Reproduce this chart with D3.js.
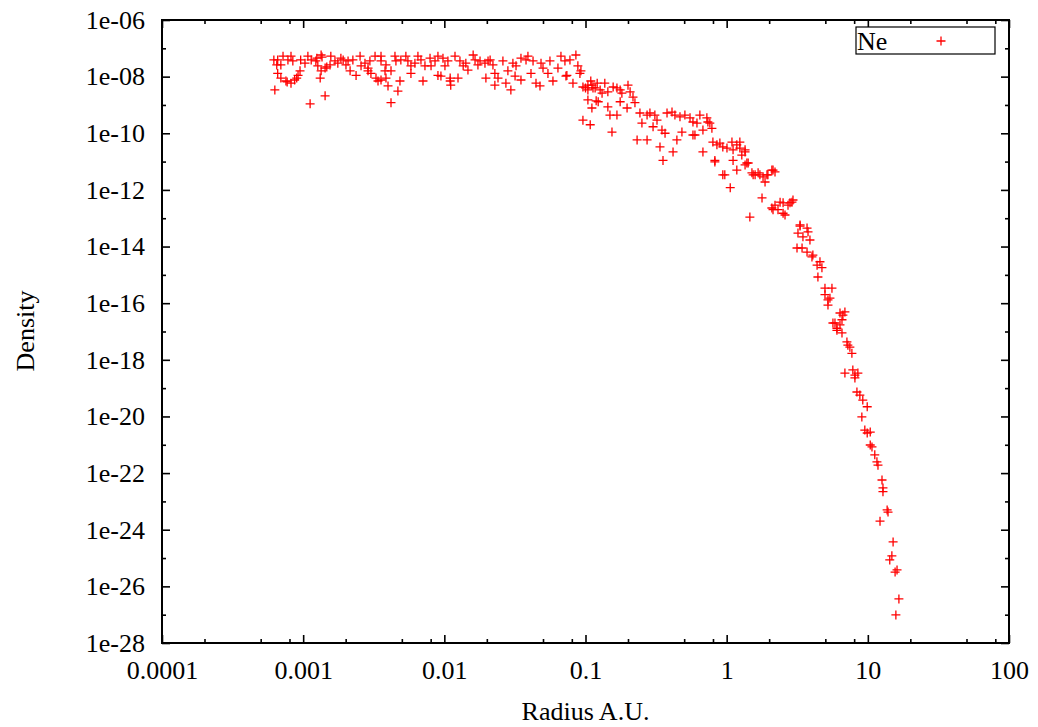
<!DOCTYPE html>
<html>
<head>
<meta charset="utf-8">
<script src="https://cdn.jsdelivr.net/npm/d3@7"></script>
<style>
  html, body { margin: 0; padding: 0; background: #fff; }
  svg text { font-family: 'Liberation Serif', 'Times New Roman', serif; fill: #000; }
</style>
</head>
<body>
<svg id="chart" width="1038" height="727"></svg>
<script>
// ── Data (Ne density vs radius) ─────────────────────
// core, r < 3.5e-3
const radiusCoreA = [6.2e-4, 6.6e-4, 7.2e-4, 6.5e-4, 6.95e-4, 6.6e-4, 6.95e-4, 7.55e-4, 8.2e-4, 8.7e-4,
  9.2e-4, 9.5e-4, 7.8e-4, 8.2e-4, 8.45e-4, 9.6e-4, 1.03e-3, 1.08e-3, 1.14e-3, 1.23e-3,
  1.34e-3, 1.27e-3, 1.34e-3, 1.32e-3, 1.43e-3, 1.55e-3, 1.57e-3, 1.68e-3, 1.76e-3, 1.85e-3,
  1.92e-3, 2.01e-3, 2.08e-3, 2.15e-3, 2.25e-3, 2.37e-3, 2.53e-3, 2.57e-3, 2.74e-3, 2.88e-3,
  2.97e-3, 2.88e-3, 3.02e-3, 3.23e-3, 3.28e-3, 3.39e-3, 6.3e-4, 1.43e-3, 1.12e-3, 7.7e-4,
  9.0e-4, 1.25e-3, 1.36e-3, 1.47e-3];
const densityCoreA = [3.9e-8, 3.9e-8, 5.3e-8, 2.6e-8, 2.6e-8, 1.3e-8, 8.9e-9, 7.0e-9, 5.9e-9, 7.6e-9,
  1.1e-8, 1.6e-8, 3.9e-8, 5.3e-8, 3.6e-8, 3.9e-8, 3.0e-8, 5.3e-8, 3.9e-8, 3.6e-8,
  5.8e-8, 2.4e-8, 1.6e-8, 8.9e-9, 2.0e-8, 2.6e-8, 5.3e-8, 3.6e-8, 3.0e-8, 4.5e-8,
  3.9e-8, 2.6e-8, 3.6e-8, 1.6e-8, 3.9e-8, 1.1e-8, 5.3e-8, 2.4e-8, 3.0e-8, 2.0e-8,
  3.6e-8, 1.6e-8, 1.3e-8, 5.3e-8, 8.9e-9, 7.0e-9, 3.4e-9, 2.1e-9, 1.1e-9, 6.5e-9,
  8.9e-9, 4.5e-8, 4.9e-8, 2.2e-8];

// core, 3.5e-3 .. 2e-2
const radiusCoreB = [3.56e-3, 3.56e-3, 3.86e-3, 3.8e-3, 4.19e-3, 3.56e-3, 3.86e-3, 3.99e-3, 4.85e-3, 4.69e-3,
  4.19e-3, 4.47e-3, 4.54e-3, 4.92e-3, 5.34e-3, 5.52e-3, 5.8e-3, 5.8e-3, 6.19e-3, 6.5e-3,
  6.83e-3, 7.06e-3, 7.29e-3, 7.92e-3, 8.05e-3, 8.59e-3, 9.01e-3, 9.01e-3, 9.46e-3, 9.78e-3,
  1.01e-2, 1.06e-2, 1.10e-2, 1.11e-2, 1.10e-2, 1.19e-2, 1.25e-2, 1.29e-2, 1.36e-2, 1.42e-2,
  1.47e-2, 1.60e-2, 1.65e-2, 1.73e-2, 1.79e-2, 1.94e-2, 1.97e-2, 2.04e-2];
const densityCoreB = [5.3e-8, 3.6e-8, 2.6e-8, 1.6e-8, 1.6e-8, 7.6e-9, 8.9e-9, 4.7e-9, 7.0e-9, 3.1e-9,
  1.2e-9, 5.3e-8, 3.6e-8, 3.9e-8, 5.3e-8, 3.6e-8, 2.4e-8, 1.3e-8, 3.0e-8, 5.3e-8,
  3.9e-8, 7.0e-9, 2.4e-8, 4.5e-8, 2.4e-8, 3.6e-8, 5.3e-8, 1.1e-8, 1.05e-8, 4.5e-8,
  2.4e-8, 3.6e-8, 8.9e-9, 5.0e-9, 7.0e-9, 5.3e-8, 8.9e-9, 3.6e-8, 2.4e-8, 3.0e-8,
  1.7e-8, 5.8e-8, 3.9e-8, 2.6e-8, 3.6e-8, 3.0e-8, 8.9e-9, 3.6e-8];

// core, 2e-2 .. 0.093
const radiusCoreC = [2.11e-2, 2.21e-2, 2.28e-2, 2.28e-2, 2.40e-2, 2.60e-2, 2.73e-2, 2.82e-2, 2.96e-2, 3.06e-2,
  3.17e-2, 3.22e-2, 3.49e-2, 3.49e-2, 3.79e-2, 3.91e-2, 4.11e-2, 4.25e-2, 4.46e-2, 4.76e-2,
  4.84e-2, 5.0e-2, 5.42e-2, 5.6e-2, 5.88e-2, 6.38e-2, 6.7e-2, 7.15e-2, 7.27e-2, 7.76e-2,
  8.15e-2, 8.55e-2, 8.83e-2, 9.28e-2, 7.38e-2, 9.13e-2];
const densityCoreC = [3.9e-8, 2.6e-8, 1.3e-8, 5.0e-9, 8.9e-9, 3.6e-8, 5.9e-9, 1.6e-8, 3.4e-9, 3.0e-8,
  1.05e-8, 2.4e-8, 7.6e-9, 4.5e-8, 3.9e-8, 5.3e-8, 1.3e-8, 3.6e-8, 5.9e-9, 4.7e-9,
  3.0e-8, 2.0e-8, 1.3e-8, 3.6e-8, 7.0e-9, 2.0e-8, 5.3e-8, 3.6e-8, 1.05e-8, 3.9e-8,
  5.9e-9, 5.8e-8, 2.4e-8, 1.6e-8, 1.1e-8, 1.3e-8];

// knee, 0.095 .. 0.8
const radiusKnee = [0.100, 0.104, 0.109, 0.117, 0.104, 0.119, 0.108, 0.0959, 0.104, 0.111,
  0.113, 0.121, 0.127, 0.137, 0.131, 0.144, 0.123, 0.111, 0.0959, 0.144,
  0.157, 0.167, 0.176, 0.181, 0.200, 0.207, 0.217, 0.224, 0.176, 0.149,
  0.167, 0.197, 0.154, 0.243, 0.251, 0.273, 0.286, 0.310, 0.321, 0.301,
  0.348, 0.366, 0.232, 0.273, 0.337, 0.417, 0.354, 0.378, 0.410, 0.430,
  0.467, 0.506, 0.550, 0.577, 0.616, 0.646, 0.724, 0.760, 0.786, 0.679,
  0.577, 0.482, 0.444, 0.679, 0.736, 0.596];
const densityKnee = [4.0e-9, 5.0e-9, 7.0e-9, 4.0e-9, 1.5e-9, 1.4e-9, 2.0e-10, 4.3e-9, 3.4e-9, 5.0e-9,
  4.0e-9, 5.9e-9, 3.4e-9, 5.9e-9, 2.6e-9, 2.9e-9, 1.3e-9, 7.8e-10, 2.9e-10, 8.5e-10,
  4.3e-9, 4.0e-9, 3.4e-9, 2.6e-9, 5.0e-9, 2.9e-9, 1.9e-9, 1.2e-9, 1.3e-9, 4.4e-10,
  4.4e-10, 7.8e-10, 1.1e-10, 5.2e-10, 2.3e-10, 4.4e-10, 5.2e-10, 4.4e-10, 2.9e-10, 1.7e-10,
  1.3e-10, 1.0e-10, 5.8e-11, 5.8e-11, 3.3e-11, 2.2e-11, 1.1e-11, 5.2e-10, 5.6e-10, 4.4e-10,
  3.8e-10, 4.4e-10, 3.5e-10, 2.5e-10, 2.3e-10, 4.4e-10, 3.5e-10, 2.3e-10, 1.5e-10, 1.3e-10,
  8.7e-11, 1.1e-10, 5.8e-11, 2.2e-11, 2.5e-10, 8.7e-11];

// shoulder, 0.8 .. 3
const radiusShoulder = [0.799, 0.853, 0.895, 0.939, 1.005, 1.09, 1.18, 1.24, 1.35, 1.28,
  1.11, 0.939, 1.18, 1.39, 1.54, 1.72, 1.93, 2.13, 0.825, 1.11,
  1.24, 0.825, 0.970, 1.35, 1.42, 1.51, 1.59, 1.67, 1.81, 1.96,
  2.09, 2.20, 1.87, 1.78, 1.06, 1.46, 2.09, 2.20, 2.39, 2.51,
  2.31, 2.59, 2.72, 2.90, 2.95, 2.13, 2.51, 2.81, 1.35];
const densityShoulder = [4.9e-11, 3.9e-11, 4.5e-11, 3.3e-11, 3.0e-11, 4.9e-11, 3.9e-11, 3.0e-11, 2.6e-11, 1.7e-11,
  1.1e-11, 3.4e-12, 5.0e-12, 8.9e-12, 3.4e-12, 3.4e-12, 3.4e-12, 5.0e-12, 1.1e-11, 2.6e-11,
  4.9e-11, 9.7e-12, 3.4e-12, 7.6e-12, 8.9e-12, 4.0e-12, 3.4e-12, 4.0e-12, 2.9e-12, 3.4e-12,
  5.0e-12, 4.3e-12, 1.9e-12, 5.2e-13, 1.2e-12, 1.1e-13, 2.3e-13, 2.9e-13, 3.7e-13, 3.5e-13,
  2.0e-13, 1.3e-13, 2.9e-13, 3.7e-13, 4.4e-13, 2.0e-13, 1.5e-13, 3.5e-13, 2.2e-11];

// tail, r > 3
const radiusTail = [3.31, 3.71, 3.31, 3.20, 3.47, 3.77, 3.89, 3.15, 3.42, 3.71,
  4.02, 4.08, 4.37, 4.58, 4.73, 4.43, 4.97, 5.57, 4.97, 5.39,
  5.22, 6.35, 6.88, 5.85, 6.35, 6.04, 5.22, 6.66, 6.56, 5.66,
  6.04, 6.56, 7.11, 7.22, 7.46, 7.71, 6.88, 7.83, 8.10, 8.50,
  8.10, 8.37, 8.78, 9.21, 9.9, 9.07, 9.52, 10.4, 9.9, 10.4,
  10.7, 11.2, 11.6, 11.8, 12.6, 12.8, 12.8, 13.7, 13.9, 12.2,
  15.1, 14.8, 14.3, 16.1, 15.6, 16.6, 15.8];
const densityTail = [5.3e-14, 4.5e-14, 5.8e-14, 3.0e-14, 2.2e-14, 3.3e-14, 1.7e-14, 8.9e-15, 8.9e-15, 6.4e-15,
  4.3e-15, 5.0e-15, 2.2e-15, 2.9e-15, 1.8e-15, 8.4e-16, 3.4e-16, 3.4e-16, 2.0e-16, 1.5e-16,
  8.6e-17, 4.5e-17, 4.9e-17, 2.0e-17, 1.7e-17, 1.3e-17, 1.3e-16, 3.8e-17, 2.6e-17, 2.0e-17,
  1.1e-17, 8.9e-18, 4.3e-18, 3.3e-18, 2.8e-18, 1.7e-18, 3.4e-19, 4.4e-19, 2.9e-19, 3.4e-19,
  2.3e-19, 7.3e-20, 5.7e-20, 3.8e-20, 2.2e-20, 9.6e-21, 3.3e-21, 2.8e-21, 2.6e-21, 9.8e-22,
  8.4e-22, 4.4e-22, 2.5e-22, 1.9e-22, 5.7e-23, 3.0e-23, 2.2e-23, 5.0e-24, 4.2e-24, 2.0e-24,
  3.7e-25, 1.2e-25, 8.6e-26, 3.8e-26, 3.2e-26, 3.6e-27, 9.8e-28];

// ── Axes ticks ───────────────────────────────────────
const xTicks      = [1e-4, 1e-3, 1e-2, 1e-1, 1, 10, 100];
const xTickLabels = ['0.0001', '0.001', '0.01', '0.1', '1', '10', '100'];
const xMinorSteps = [2, 5, 8];
const yTicks      = [1e-6, 1e-8, 1e-10, 1e-12, 1e-14, 1e-16, 1e-18, 1e-20, 1e-22, 1e-24, 1e-26, 1e-28];
const yTickLabels = ['1e-06', '1e-08', '1e-10', '1e-12', '1e-14', '1e-16', '1e-18', '1e-20', '1e-22', '1e-24', '1e-26', '1e-28'];
const yMinorTicks = [1e-7, 1e-9, 1e-11, 1e-13, 1e-15, 1e-17, 1e-19, 1e-21, 1e-23, 1e-25, 1e-27];

const seriesName = 'Ne';
const xTitle = 'Radius A.U.';
const yTitle = 'Density';

// ── Layout ───────────────────────────────────────────
const M = { left: 162, right: 1009, top: 20, bottom: 643 };
const FONT = 26;

const svg = d3.select('#chart');
const x = d3.scaleLog().domain([1e-4, 100]).range([M.left, M.right]);
const y = d3.scaleLog().domain([1e-28, 1e-6]).range([M.bottom, M.top]);

const radius  = [].concat(radiusCoreA, radiusCoreB, radiusCoreC, radiusKnee, radiusShoulder, radiusTail);
const density = [].concat(densityCoreA, densityCoreB, densityCoreC, densityKnee, densityShoulder, densityTail);
const points  = radius.map((r, i) => ({ r, d: density[i] }));

const xMinor = [];
xTicks.slice(0, -1).forEach(t => xMinorSteps.forEach(s => xMinor.push(t * s)));

// ── Ticks (gnuplot style: inward, mirrored) ──────────
function styleAxis(g) {
  g.select('.domain').remove();
  g.selectAll('line').attr('stroke', '#000').attr('stroke-width', 1.6);
  g.selectAll('text').attr('font-size', FONT + 'px').attr('font-family', null).attr('fill', '#000');
}

svg.append('g').attr('transform', `translate(0,${M.bottom})`)
  .call(d3.axisBottom(x).tickValues(xTicks).tickFormat((d, i) => xTickLabels[i]).tickSize(-8).tickPadding(18))
  .call(styleAxis);
svg.append('g').attr('transform', `translate(0,${M.top})`)
  .call(d3.axisTop(x).tickValues(xTicks).tickFormat('').tickSize(-8))
  .call(styleAxis);
svg.append('g').attr('transform', `translate(0,${M.bottom})`)
  .call(d3.axisBottom(x).tickValues(xMinor).tickFormat('').tickSize(-4))
  .call(styleAxis);
svg.append('g').attr('transform', `translate(0,${M.top})`)
  .call(d3.axisTop(x).tickValues(xMinor).tickFormat('').tickSize(-4))
  .call(styleAxis);

svg.append('g').attr('transform', `translate(${M.left},0)`)
  .call(d3.axisLeft(y).tickValues(yTicks).tickFormat((d, i) => yTickLabels[i]).tickSize(-8).tickPadding(17))
  .call(styleAxis);
svg.append('g').attr('transform', `translate(${M.right},0)`)
  .call(d3.axisRight(y).tickValues(yTicks).tickFormat('').tickSize(-8))
  .call(styleAxis);
svg.append('g').attr('transform', `translate(${M.left},0)`)
  .call(d3.axisLeft(y).tickValues(yMinorTicks).tickFormat('').tickSize(-4))
  .call(styleAxis);
svg.append('g').attr('transform', `translate(${M.right},0)`)
  .call(d3.axisRight(y).tickValues(yMinorTicks).tickFormat('').tickSize(-4))
  .call(styleAxis);

// frame
svg.append('rect')
  .attr('x', M.left).attr('y', M.top)
  .attr('width', M.right - M.left).attr('height', M.bottom - M.top)
  .attr('fill', 'none').attr('stroke', '#000').attr('stroke-width', 2);

// ── Points ───────────────────────────────────────────
const plus = 'M-4.5,0H4.5M0,-4.5V4.5';
svg.append('g').selectAll('path').data(points).join('path')
  .attr('d', plus)
  .attr('transform', p => `translate(${x(p.r)},${y(p.d)})`)
  .attr('fill', 'none').attr('stroke', '#ff0000').attr('stroke-width', 1.3);

// ── Legend ───────────────────────────────────────────
const leg = svg.append('g');
leg.append('rect').attr('x', 856).attr('y', 27).attr('width', 139).attr('height', 27)
  .attr('fill', '#fff').attr('stroke', '#000').attr('stroke-width', 1.2);
leg.append('text').attr('x', 857).attr('y', 50).attr('font-size', FONT + 'px').text(seriesName);
leg.append('path').attr('d', plus).attr('transform', 'translate(941,41)')
  .attr('fill', 'none').attr('stroke', '#ff0000').attr('stroke-width', 1.3);

// ── Titles ───────────────────────────────────────────
svg.append('text').attr('x', (M.left + M.right) / 2).attr('y', 720)
  .attr('text-anchor', 'middle').attr('font-size', FONT + 'px').text(xTitle);
svg.append('text').attr('transform', 'translate(34,331) rotate(-90)')
  .attr('text-anchor', 'middle').attr('font-size', FONT + 'px').text(yTitle);
</script>
</body>
</html>
